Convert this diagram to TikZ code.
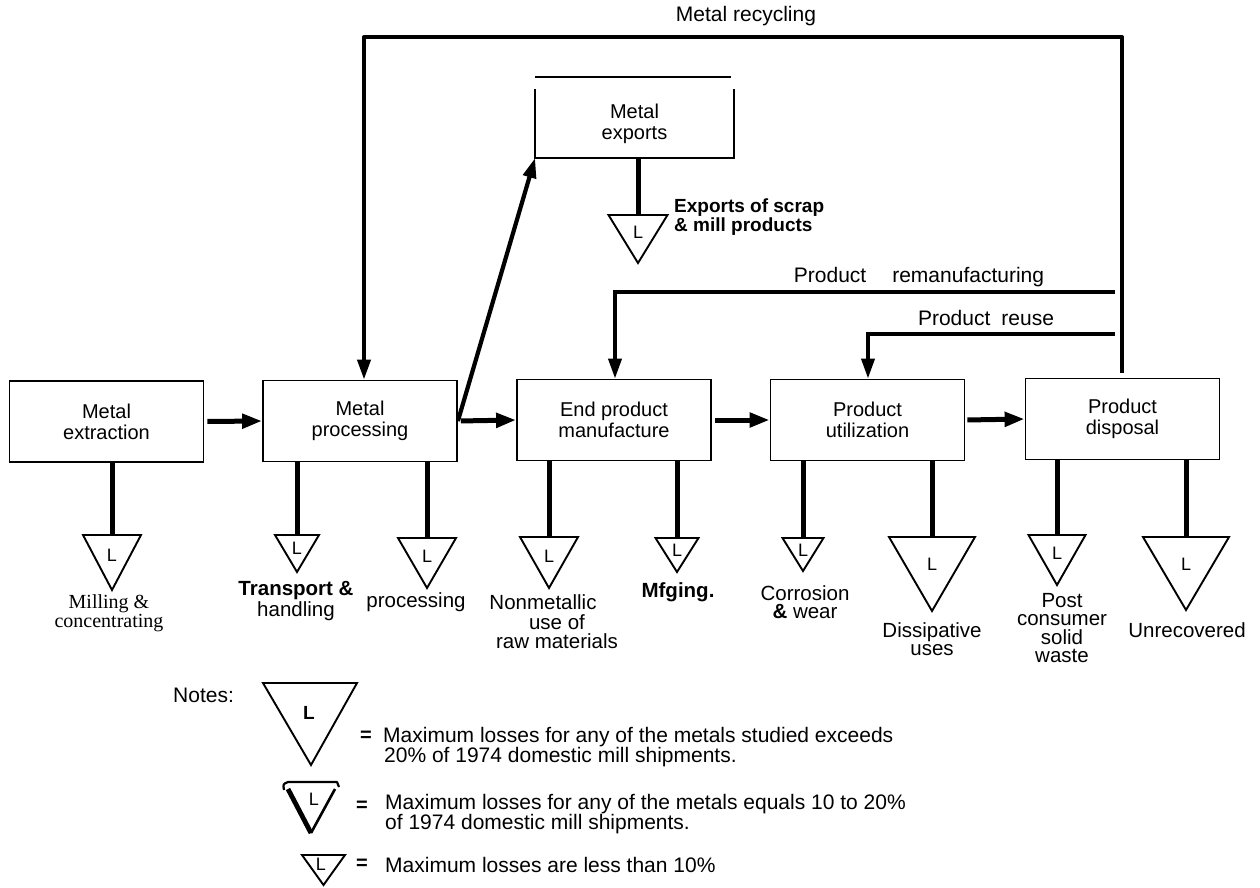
\documentclass[tikz,border=0pt]{standalone}
\usepackage{fontspec}
\setmainfont{Liberation Sans}
\newfontfamily\serfont{Liberation Serif}
\usetikzlibrary{arrows.meta}
\newcommand\losstri[5]{%
  \draw[tri] ({#2-#4},#3) -- ({#2+#4},#3) -- (#2,{#3+#5}) -- cycle;
  \coordinate (#1) at (#2,#3);
  \node[ltr] (#1L) at (#2,{#3+0.37*#5}) {L};
}
\begin{document}
\begin{tikzpicture}[x=1pt,y=-1pt,
  box/.style={draw, line width=1.8pt, minimum width=194pt, minimum height=81pt, align=center, font=\fontsize{20}{21}\selectfont, inner sep=0pt},
  flow/.style={line width=5pt, -{Triangle[length=20pt,width=14pt]}},
  vflow/.style={line width=3.8pt, -{Triangle[length=20pt,width=13pt]}},
  loss/.style={line width=5pt},
  tri/.style={line width=1.9pt, line join=miter},
  ltr/.style={inner sep=0pt, font=\fontsize{18}{18}\selectfont},
  lbl/.style={align=center, inner sep=0pt, font=\fontsize{20.5}{18.5}\selectfont},
  toplbl/.style={inner sep=0pt, font=\fontsize{21}{21}\selectfont},
  note/.style={align=left, anchor=west, inner sep=0pt, font=\fontsize{21}{20}\selectfont},
  eq/.style={inner sep=0pt, font=\bfseries\fontsize{20}{20}\selectfont}
]
\useasboundingbox (0,0) rectangle (1260,887);

% main boxes
\node[box] (ext)  at (106.5,421.5) {Metal\\extraction};
\node[box] (proc) at (360,421) {Metal\\processing};
\node[box] (endp) at (614,420) {End product\\manufacture};
\node[box] (util) at (867.5,420) {Product\\utilization};
\node[box] (disp) at (1122.5,419) {Product\\disposal};

% exports box (open top, separate top line)
\node[box, draw=none, minimum width=197pt, minimum height=67pt] (exp) at (634.5,123.5) {Metal\\exports};
\draw[line width=1.8pt] (exp.north west) -- (exp.south west) -- (exp.south east) -- (exp.north east);
\draw[line width=1.6pt] ([yshift=12pt]exp.north west) -- ([yshift=12pt,xshift=-3pt]exp.north east);

% main flow arrows
\draw[flow, shorten <=3pt] (ext.east) -- (proc.west);
\draw[flow, shorten <=3pt] (proc.east) -- (endp.west);
\draw[flow, shorten <=3pt] (endp.east) -- (util.west);
\draw[flow, shorten <=2pt] (util.east) -- (disp.west);
\draw[line width=4.2pt, -{Triangle[length=20pt,width=13pt]}] (proc.east) -- (exp.south west);

% recycling loops
\coordinate (rtop) at (1122,37);
\draw[line width=4pt, line join=round, -{Triangle[length=20pt,width=13pt]}, shorten <=5pt] (disp.north -| rtop) -- (rtop) -- (364,37) -- (proc.north -| 364,0);
\coordinate (remA) at (1115,292);
\draw[vflow] (remA) -- (615,292) -- (endp.north -| 615,0);
\coordinate (reuA) at (1115,334);
\draw[vflow] (reuA) -- (868,334) -- (util.north -| 868,0);

\node[toplbl] (trec) at (746,16) {Metal recycling};
\node[toplbl] (trem) at (919,277) {Product\hspace{26pt}remanufacturing};
\node[toplbl] (treu) at (986,318) {Product\hspace{11pt}reuse};

% loss triangles
\losstri{tX}{638}{215}{29.5}{48}
\losstri{tA}{112}{535}{29}{55}
\losstri{tB}{297}{535}{22}{37}
\losstri{tC}{427}{538}{29}{50}
\losstri{tD}{549}{537}{29}{51}
\losstri{tE}{677}{538}{21.5}{34}
\losstri{tF}{803}{538}{20.5}{33}
\losstri{tG}{932}{537}{43}{74}
\losstri{tH}{1057}{535}{28.5}{50}
\losstri{tI}{1186}{537}{43}{73}

\draw[loss] (exp.south -| tX) -- (tX);
\draw[loss] (ext.south -| tA) -- (tA);
\draw[loss] (proc.south -| tB) -- (tB);
\draw[loss] (proc.south -| tC) -- (tC);
\draw[loss] (endp.south -| tD) -- (tD);
\draw[loss] (endp.south -| tE) -- (tE);
\draw[loss] (util.south -| tF) -- (tF);
\draw[loss] (util.south -| tG) -- (tG);
\draw[loss] (disp.south -| tH) -- (tH);
\draw[loss] (disp.south -| tI) -- (tI);

% loss labels
\node[lbl, anchor=west, align=left, font=\bfseries\fontsize{19}{18.5}\selectfont] (l0) at (674,217) {Exports of scrap\\\& mill products};
\node[lbl, font=\serfont\fontsize{20}{19}\selectfont] (l1) at (109,613) {Milling \&\\concentrating};
\node[lbl] (l2) at (296,601) {\textbf{Transport \&}\\handling};
\node[lbl] (l3) at (416,602) {processing};
\node[lbl, font=\fontsize{20.5}{19.5}\selectfont] (l4) at (557,622) {Nonmetallic\hspace*{28pt}\\use of\\raw materials};
\node[lbl] (l5) at (678,592) {\textbf{Mfging.}};
\node[lbl] (l6) at (805,602) {Corrosion\\\textbf{\&} wear};
\node[lbl] (l7) at (932,639) {Dissipative\\uses};
\node[lbl] (l8) at (1062,628) {Post\\consumer\\solid\\waste};
\node[lbl] (l9) at (1187,630) {Unrecovered};

% notes
\node[note] (nn) at (173,695) {Notes:};
\draw[tri] (263,683) -- (357,683) -- (311,765) -- cycle;
\node[ltr, font=\bfseries\fontsize{19}{19}\selectfont] (nL1) at (309,713) {L};
\node[eq] (eq1) at (366,736) {=};
\node[note] (n1) at (383,747) {Maximum losses for any of the metals studied exceeds\\\hspace*{1pt}20\% of 1974 domestic mill shipments.};

\draw[line width=2.2pt, line join=round] (284,790) .. controls (283,784) .. (288,782) -- (337,782) -- (339,787);
\draw[line width=4.8pt] (288,789) -- (311,833);
\draw[line width=2.6pt] (335,789) -- (311,833);
\node[ltr] (nL2) at (314,799) {L};
\node[eq] (eq2) at (362,806) {=};
\node[note] (n2) at (385,814) {Maximum losses for any of the metals equals 10 to 20\%\\of 1974 domestic mill shipments.};

\draw[tri] (302,855) -- (345,855) -- (323.5,885) -- cycle;
\node[ltr] (nL3) at (321,864) {L};
\node[eq] (eq3) at (362,864) {=};
\node[note] (n3) at (385,865) {Maximum losses are less than 10\%};
\end{tikzpicture}
\end{document}
